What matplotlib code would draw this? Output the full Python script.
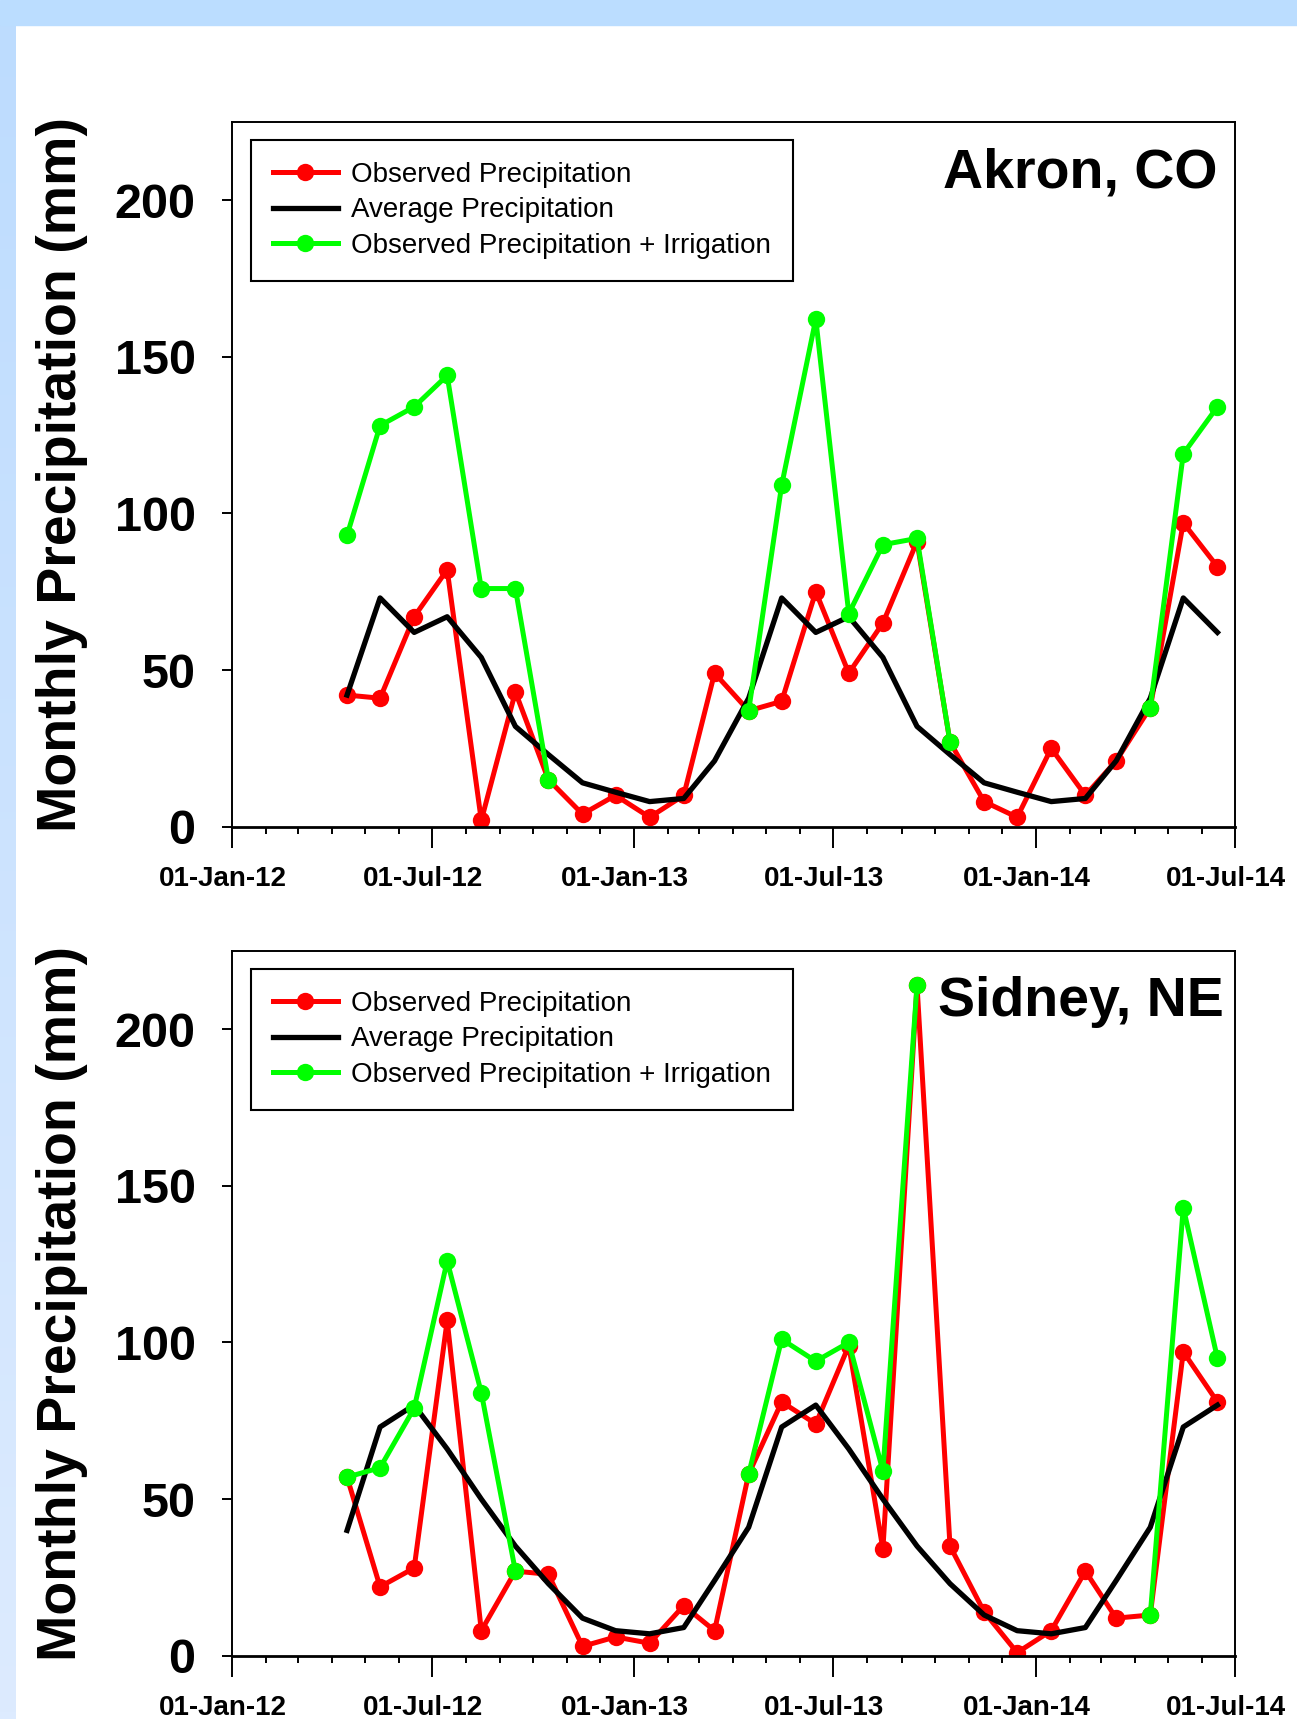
import numpy as np
import pandas as pd
import matplotlib
matplotlib.use('Agg')
import matplotlib.pyplot as plt
import matplotlib.dates as mdates
import matplotlib.transforms as mtrans

plt.rcParams['font.family'] = ['Liberation Sans', 'DejaVu Sans']

# monthly values, plotted at mid-month, Apr 2012 .. Jun 2014
dates = pd.date_range('2012-04-01', '2014-06-01', freq='MS') + pd.Timedelta(days=14)
nan = np.nan

# Akron, CO
akron_obs = [42, 41, 67, 82, 2, 43, 15, 4, 10, 3, 10, 49,
             37, 40, 75, 49, 65, 91, 27, 8, 3, 25, 10, 21,
             38, 97, 83]
akron_avg = [42, 73, 62, 67, 54, 32, 23, 14, 11, 8, 9, 21,
             41, 73, 62, 67, 54, 32, 23, 14, 11, 8, 9, 21,
             41, 73, 62]
akron_irr = [93, 128, 134, 144, 76, 76, 15, nan, nan, nan, nan, nan,
             37, 109, 162, 68, 90, 92, 27, nan, nan, nan, nan, nan,
             38, 119, 134]

# Sidney, NE
sidney_obs = [57, 22, 28, 107, 8, 27, 26, 3, 6, 4, 16, 8,
              58, 81, 74, 99, 34, 214, 35, 14, 1, 8, 27, 12,
              13, 97, 81]
sidney_avg = [40, 73, 80, 66, 50, 35, 23, 12, 8, 7, 9, 24,
              41, 73, 80, 66, 50, 35, 23, 13, 8, 7, 9, 24,
              41, 73, 80]
sidney_irr = [57, 60, 79, 126, 84, 27, nan, nan, nan, nan, nan, nan,
              58, 101, 94, 100, 59, 214, nan, nan, nan, nan, nan, nan,
              13, 143, 95]

fig = plt.figure(figsize=(12.97, 17.19), dpi=100)
fig.patch.set_facecolor('white')

# light blue slide background: band on top, gradient strip on the left
fig.patches.append(plt.Rectangle((0, 1 - 25 / 1719), 1, 25 / 1719,
                                 transform=fig.transFigure, color='#BBDDFF', zorder=0))
strip = fig.add_axes([0, 0, 16 / 1297, 1 - 25 / 1719])
grad = np.linspace(0, 1, 256).reshape(-1, 1)
strip.imshow(grad, aspect='auto', cmap=matplotlib.colors.LinearSegmentedColormap.from_list(
    'bg', ['#BDDCFE', '#DDEBFF']), extent=[0, 1, 0, 1])
strip.axis('off')


def panel(ax, obs, avg, irr, name, name_x):
    ax.plot(dates, obs, color='#FF0000', lw=3.6, marker='o', ms=12.5, mew=0,
            label='Observed Precipitation')
    ax.plot(dates, avg, color='black', lw=3.8, label='Average Precipitation')
    ax.plot(dates, irr, color='#00FF00', lw=3.6, marker='o', ms=12.5, mew=0,
            label='Observed Precipitation + Irrigation')

    ax.set_xlim(pd.Timestamp('2012-01-01'), pd.Timestamp('2014-07-01'))
    ax.set_ylim(0, 225)
    ax.set_yticks([0, 50, 100, 150, 200])
    ax.xaxis.set_major_locator(mdates.MonthLocator(bymonth=[1, 7]))
    ax.xaxis.set_minor_locator(mdates.MonthLocator())
    ax.xaxis.set_major_formatter(mdates.DateFormatter('%d-%b-%y'))

    ax.tick_params(axis='x', which='major', length=15, width=1.4, pad=13.5,
                   labelsize=20, direction='out')
    ax.tick_params(axis='x', which='minor', length=5, width=1.4, direction='out')
    ax.tick_params(axis='y', which='major', length=7.4, width=1.4, pad=18.5,
                   labelsize=35, direction='out')
    for lab in ax.get_xticklabels() + ax.get_yticklabels():
        lab.set_fontweight('bold')
    shift = mtrans.ScaledTranslation(-9 / 100, 0, fig.dpi_scale_trans)
    for lab in ax.get_xticklabels():
        lab.set_transform(lab.get_transform() + shift)

    for s in ax.spines.values():
        s.set_linewidth(1.4)
    ax.spines['bottom'].set_linewidth(2)

    leg = ax.legend(loc='upper left', bbox_to_anchor=(0.0194, 0.974), borderaxespad=0,
                    fontsize=20, frameon=True, fancybox=False, framealpha=1,
                    edgecolor='black', handlelength=2.35, handletextpad=0.47,
                    borderpad=0.78, labelspacing=0.35)
    leg.get_frame().set_linewidth(1.5)

    ax.text(name_x, 0.907, name, transform=ax.transAxes, ha='right', va='baseline',
            fontsize=40, fontweight='bold')


ax1 = fig.add_axes([0.1785, 0.5191, 0.7737, 0.4101])
panel(ax1, akron_obs, akron_avg, akron_irr, 'Akron, CO', 0.983)

ax2 = fig.add_axes([0.1785, 0.0368, 0.7737, 0.4101])
panel(ax2, sidney_obs, sidney_avg, sidney_irr, 'Sidney, NE', 0.9887)

for yc in [0.7241, 0.2419]:
    fig.text(62 / 1297, yc, 'Monthly Precipitation (mm)', rotation=90,
             fontsize=40, fontweight='bold', ha='center', va='center')

fig.savefig('out.png', dpi=100, facecolor=fig.get_facecolor())
